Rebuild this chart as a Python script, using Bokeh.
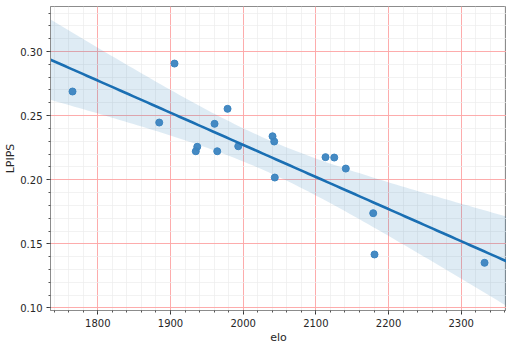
import numpy as np
from bokeh.plotting import figure
from bokeh.models import ColumnDataSource, Range1d, FixedTicker
from bokeh.embed import file_html
from bokeh.resources import INLINE

elo = [1765.2, 1884.5, 1905.5, 1936.8, 1934.8, 1960.6, 1964.3, 1978.5, 1993.2,
       2040.4, 2042.7, 2043.5, 2113.3, 2125.3, 2141.2, 2178.9, 2180.7, 2332.1]
lpips = [0.2688, 0.2446, 0.2906, 0.2257, 0.2222, 0.2436, 0.2222, 0.2553, 0.2261,
         0.2339, 0.2298, 0.2017, 0.2176, 0.2173, 0.2087, 0.1739, 0.1417, 0.1352]
x_ticks = [1800, 1900, 2000, 2100, 2200, 2300]
y_ticks = [0.10, 0.15, 0.20, 0.25, 0.30]
x_range = (1734.9, 2362.3)
y_range = (0.0980, 0.3351)

x = np.array(elo)
y = np.array(lpips)
n = len(x)
b1, b0 = np.polyfit(x, y, 1)
resid = y - (b0 + b1 * x)
s = np.sqrt(np.sum(resid ** 2) / (n - 2))
xm = x.mean()
sxx = np.sum((x - xm) ** 2)
t = 2.55
xg = np.linspace(x_range[0], x_range[1], 100)
yg = b0 + b1 * xg
se = s * np.sqrt(1.0 / n + (xg - xm) ** 2 / sxx)
lo = yg - t * se
hi = yg + t * se

p = figure(width=506, height=348, output_backend="svg", toolbar_location=None,
           x_range=Range1d(*x_range), y_range=Range1d(*y_range),
           min_border_left=50, min_border_right=0, min_border_top=6, min_border_bottom=38)

p.background_fill_color = "white"
p.border_fill_color = "white"
p.outline_line_color = "#8c8c8c"
p.outline_line_width = 1

for ax in (p.xaxis[0], p.yaxis[0]):
    ax.axis_line_color = "#8c8c8c"
    ax.major_tick_in = 0
    ax.major_tick_out = 4
    ax.minor_tick_in = 0
    ax.minor_tick_out = 2
    ax.major_tick_line_color = "#333333"
    ax.minor_tick_line_color = "#555555"
    ax.major_label_text_font = "DejaVu Sans"
    ax.major_label_text_font_size = "10px"
    ax.major_label_text_color = "#262626"
    ax.axis_label_text_font = "DejaVu Sans"
    ax.axis_label_text_font_size = "11px"
    ax.axis_label_text_font_style = "normal"
    ax.axis_label_text_color = "#262626"

p.xaxis.ticker = FixedTicker(ticks=x_ticks, minor_ticks=list(range(1740, 2361, 20)))
p.yaxis.ticker = FixedTicker(ticks=y_ticks, minor_ticks=[round(0.10 + 0.01 * i, 2) for i in range(24)])
p.yaxis.major_label_overrides = {v: f"{v:.2f}" for v in y_ticks}
p.xaxis.axis_label = "elo"
p.yaxis.axis_label = "LPIPS"
p.xaxis.major_label_standoff = 4
p.xaxis.axis_label_standoff = 1
p.yaxis.major_label_standoff = 4
p.yaxis.axis_label_standoff = 0

p.xgrid.grid_line_color = "#ff9a9a"
p.ygrid.grid_line_color = "#ff9a9a"
p.xgrid.grid_line_alpha = 0.8
p.ygrid.grid_line_alpha = 0.8
p.xgrid.minor_grid_line_color = "#ececec"
p.ygrid.minor_grid_line_color = "#ececec"
p.xgrid.minor_grid_line_alpha = 0.7
p.ygrid.minor_grid_line_alpha = 0.7

band = ColumnDataSource(dict(x=xg, lo=lo, hi=hi, y=yg))
p.varea(x="x", y1="lo", y2="hi", source=band, fill_color="#1f77b4", fill_alpha=0.15)

pts = ColumnDataSource(dict(x=elo, y=lpips))
p.scatter(x="x", y="y", source=pts, size=7, fill_color="#3b84c0", line_color="#3b84c0", fill_alpha=0.95)
p.line(x="x", y="y", source=band, line_color="#1a6fb3", line_width=2.6)

open("out.html", "w").write(file_html(p, INLINE))
